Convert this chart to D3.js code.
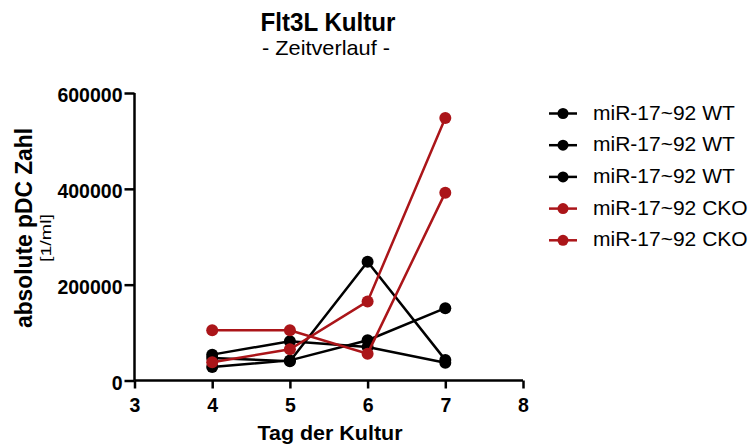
<!DOCTYPE html>
<html>
<head>
<meta charset="utf-8">
<script src="https://cdn.jsdelivr.net/npm/d3@7/dist/d3.min.js"></script>
<style>
  html, body { margin: 0; padding: 0; background: #fff; }
  svg { display: block; }
  text { font-family: "Liberation Sans", Arial, sans-serif; fill: #000; }
</style>
</head>
<body>
<svg id="chart" width="748" height="447"></svg>
<script>
// Culture days and pDC counts per mouse
const days = [4, 5, 6, 7];
const seriesNames = ["miR-17~92 WT", "miR-17~92 WT", "miR-17~92 WT", "miR-17~92 CKO", "miR-17~92 CKO"];
const wt1 = [47000, 40000, 248000, 43000];
const wt2 = [28000, 42000, 84000, 151000];
const wt3 = [54000, 82000, 70000, 37000];
const cko1 = [38000, 65000, 165000, 548000];
const cko2 = [105000, 105000, 56000, 392000];
const seriesValues = [wt1, wt2, wt3, cko1, cko2];
const seriesColors = ["#000000", "#000000", "#000000", "#ab1519", "#ab1519"];
const xTicks = [3, 4, 5, 6, 7, 8];
const yTicks = [0, 200000, 400000, 600000];

const svg = d3.select("#chart");

const x = d3.scaleLinear().domain([3, 8]).range([134.5, 523]);
const y = d3.scaleLinear().domain([0, 600000]).range([380.5, 93]);

// Titles
svg.append("text").attr("x", 328).attr("y", 31).attr("text-anchor", "middle")
  .attr("textLength", 135).attr("lengthAdjust", "spacingAndGlyphs")
  .style("font-size", "25px").style("font-weight", "bold").text("Flt3L Kultur");
svg.append("text").attr("x", 326).attr("y", 55).attr("text-anchor", "middle")
  .attr("textLength", 128).attr("lengthAdjust", "spacingAndGlyphs")
  .style("font-size", "21px").text("- Zeitverlauf -");

// Axes
const xAxis = d3.axisBottom(x).tickValues(xTicks).tickFormat(d3.format("d")).tickSize(8);
const yAxis = d3.axisLeft(y).tickValues(yTicks).tickFormat(d3.format("d")).tickSize(10).tickPadding(2);

const gx = svg.append("g").attr("transform", `translate(0,${y(0)})`).call(xAxis);
const gy = svg.append("g").attr("transform", `translate(${x(3)},0)`).call(yAxis);
[gx, gy].forEach(g => {
  g.select(".domain").attr("stroke", "#000").attr("stroke-width", 2.5);
  g.selectAll(".tick line").attr("stroke", "#000").attr("stroke-width", 2.5);
  g.selectAll(".tick text").style("font-size", "19.5px").style("font-weight", "bold")
    .style("font-family", "'Liberation Sans', Arial, sans-serif").attr("fill", "#000");
});
gx.select(".domain").attr("d", `M${x(3)},0H${x(8)}`);
gy.select(".domain").attr("d", `M0,${y(600000)}V${y(0)}`);
gx.selectAll(".tick text").attr("y", 31.5).attr("dy", 0);
gy.selectAll(".tick text").attr("dy", "0.46em");

// Axis titles
svg.append("text").attr("x", 330).attr("y", 440).attr("text-anchor", "middle")
  .attr("textLength", 145).attr("lengthAdjust", "spacingAndGlyphs")
  .style("font-size", "20.5px").style("font-weight", "bold").text("Tag der Kultur");
svg.append("text").attr("transform", "translate(32,228) rotate(-90)").attr("text-anchor", "middle")
  .attr("textLength", 200).attr("lengthAdjust", "spacingAndGlyphs")
  .style("font-size", "23.5px").style("font-weight", "bold").text("absolute pDC Zahl");
svg.append("text").attr("transform", "translate(51,238) rotate(-90)").attr("text-anchor", "middle")
  .attr("textLength", 48).attr("lengthAdjust", "spacingAndGlyphs")
  .style("font-size", "15px").text("[1/ml]");

// Lines and markers
const line = d3.line().x((d, i) => x(days[i])).y(d => y(d));
seriesValues.forEach((vals, si) => {
  const g = svg.append("g");
  g.append("path").datum(vals).attr("d", line)
    .attr("fill", "none").attr("stroke", seriesColors[si]).attr("stroke-width", 2.5);
  g.selectAll("circle").data(vals).join("circle")
    .attr("cx", (d, i) => x(days[i])).attr("cy", d => y(d)).attr("r", 6)
    .attr("fill", seriesColors[si]);
});

// Legend
const legend = svg.append("g");
seriesNames.forEach((name, i) => {
  const ly = 113.5 + i * 31.7;
  legend.append("line").attr("x1", 549).attr("x2", 577).attr("y1", ly).attr("y2", ly)
    .attr("stroke", seriesColors[i]).attr("stroke-width", 2.5);
  legend.append("circle").attr("cx", 563).attr("cy", ly).attr("r", 5.5).attr("fill", seriesColors[i]);
  legend.append("text").attr("x", 593).attr("y", ly + 6).style("font-size", "21px").text(name);
});
</script>
</body>
</html>
